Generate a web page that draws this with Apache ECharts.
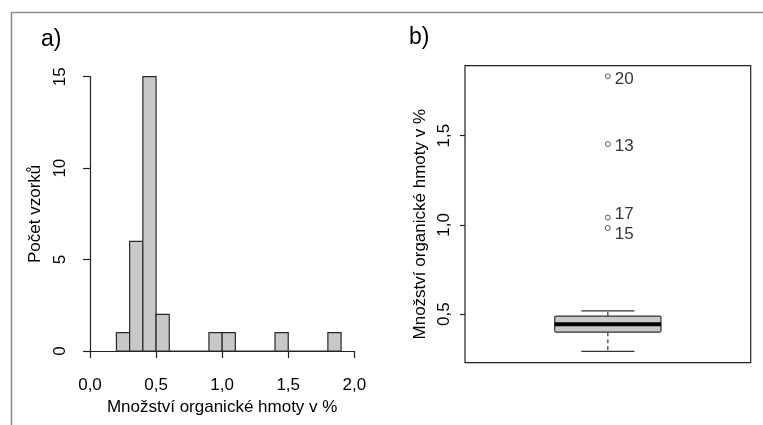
<!DOCTYPE html>
<html>
<head>
<meta charset="utf-8">
<script src="https://cdn.jsdelivr.net/npm/echarts@6/dist/echarts.min.js"></script>
<style>
html,body{margin:0;padding:0;background:#fff;}
#chart{width:763px;height:425px;}
</style>
</head>
<body>
<div id="chart"></div>
<script>
// ---- data ----
var binStarts = [0.2, 0.3, 0.4, 0.5, 0.6, 0.7, 0.8, 0.9, 1.0, 1.1, 1.2, 1.3, 1.4, 1.5, 1.6, 1.7, 1.8];
var binEnds   = [0.3, 0.4, 0.5, 0.6, 0.7, 0.8, 0.9, 1.0, 1.1, 1.2, 1.3, 1.4, 1.5, 1.6, 1.7, 1.8, 1.9];
var binCounts = [1, 6, 15, 2, 0, 0, 0, 1, 1, 0, 0, 0, 1, 0, 0, 0, 1];
var histXTicks = [0.0, 0.5, 1.0, 1.5, 2.0];
var histYTicks = [0, 5, 10, 15];

var boxStats = [0.292, 0.399, 0.444, 0.489, 0.518]; // lower whisker, Q1, median, Q3, upper whisker
var outlierValues = [1.833, 1.453, 1.041, 0.983];
var outlierLabels = ['20', '13', '17', '15'];
var boxYTicks = [0.5, 1.0, 1.5];

var titleX = 'Množství organické hmoty v %';
var titleYHist = 'Počet vzorků';
var titleYBox = 'Množství organické hmoty v %';

// ---- chart ----
var FONT = '"Liberation Sans", Arial, Helvetica, sans-serif';
var TXT = '#000';
var FS = 17;
var chart = echarts.init(document.getElementById('chart'), null, {renderer: 'canvas'});
function comma(v) { return v.toFixed(1).replace('.', ','); }

var histData = binStarts.map(function (s, i) { return [s, binEnds[i], binCounts[i]]; });
var labelDy = [3, 2, -3, 6];
var outData = outlierValues.map(function (v, i) {
  return {value: [1, v], label: {formatter: outlierLabels[i], offset: [0, labelDy[i]]}};
});

var option = {
  animation: false,
  graphic: [
    {type: 'line', shape: {x1: 11, y1: 12.5, x2: 763, y2: 12.5}, style: {stroke: '#8a8a8a', lineWidth: 1.5}},
    {type: 'line', shape: {x1: 11.5, y1: 12, x2: 11.5, y2: 425}, style: {stroke: '#8a8a8a', lineWidth: 1.5}},
    {type: 'text', left: 41, top: 28, style: {text: 'a)', font: '23px ' + FONT, fill: TXT}},
    {type: 'text', left: 409, top: 26, style: {text: 'b)', font: '23px ' + FONT, fill: TXT}}
  ],
  grid: [
    {left: 90, right: 408.7, top: 76.7, bottom: 74},
    {left: 465, right: 12.3, top: 65.7, bottom: 62.3, show: true, borderColor: '#222', borderWidth: 1.2, backgroundColor: 'transparent'}
  ],
  xAxis: [
    {
      gridIndex: 0, type: 'value', min: 0, max: 2, interval: 0.5, offset: 11,
      axisLine: {show: true, lineStyle: {color: '#222', width: 1.2}},
      axisTick: {show: true, length: 7, lineStyle: {color: '#222', width: 1.2}, customValues: histXTicks},
      axisLabel: {color: TXT, fontFamily: FONT, fontSize: FS, margin: 15, formatter: comma, customValues: histXTicks},
      splitLine: {show: false},
      name: titleX, nameLocation: 'middle', nameGap: 36,
      nameTextStyle: {color: TXT, fontFamily: FONT, fontSize: FS}
    },
    {
      gridIndex: 1, type: 'value', min: 0, max: 2, show: false
    }
  ],
  yAxis: [
    {
      gridIndex: 0, type: 'value', min: 0, max: 15, interval: 5, offset: 10,
      axisLine: {show: true, lineStyle: {color: '#222', width: 1.2}},
      axisTick: {show: true, length: 7, lineStyle: {color: '#222', width: 1.2}, customValues: histYTicks},
      axisLabel: {color: TXT, fontFamily: FONT, fontSize: FS, rotate: 90, margin: 11, customValues: histYTicks},
      splitLine: {show: false},
      name: titleYHist, nameLocation: 'middle', nameGap: 36, nameRotate: 90,
      nameTextStyle: {color: TXT, fontFamily: FONT, fontSize: FS}
    },
    {
      gridIndex: 1, type: 'value', min: 0.228, max: 1.892,
      axisLine: {show: false},
      axisTick: {show: true, length: 5, lineStyle: {color: '#222', width: 1.2}, customValues: boxYTicks},
      axisLabel: {color: TXT, fontFamily: FONT, fontSize: FS, rotate: 90, margin: 12, formatter: comma, customValues: boxYTicks},
      splitLine: {show: false},
      name: titleYBox, nameLocation: 'middle', nameGap: 36, nameRotate: 90,
      nameTextStyle: {color: TXT, fontFamily: FONT, fontSize: FS, padding: [0, 20, 0, 0]}
    }
  ],
  series: [
    {
      type: 'custom', xAxisIndex: 0, yAxisIndex: 0, data: histData,
      encode: {x: [0, 1], y: 2},
      renderItem: function (params, api) {
        var p0 = api.coord([api.value(0), 0]);
        var p1 = api.coord([api.value(1), api.value(2)]);
        return {
          type: 'rect',
          shape: {x: p0[0], y: p1[1], width: p1[0] - p0[0], height: p0[1] - p1[1]},
          style: {fill: '#c8c8c8', stroke: '#2a2a2a', lineWidth: 1.2}
        };
      }
    },
    {
      type: 'custom', xAxisIndex: 1, yAxisIndex: 1, data: [[1].concat(boxStats)],
      encode: {x: 0, y: [1, 2, 3, 4, 5]},
      renderItem: function (params, api) {
        var cx = api.coord([1, 0])[0];
        var half = api.size([0.744, 0])[0] / 2;
        var yMin = api.coord([1, api.value(1)])[1];
        var yQ1 = api.coord([1, api.value(2)])[1];
        var yMed = api.coord([1, api.value(3)])[1];
        var yQ3 = api.coord([1, api.value(4)])[1];
        var yMax = api.coord([1, api.value(5)])[1];
        var ls = {stroke: '#333', lineWidth: 1.2};
        return {
          type: 'group',
          children: [
            {type: 'line', shape: {x1: cx, y1: yQ1, x2: cx, y2: yMin}, style: {stroke: '#333', lineWidth: 1.2, lineDash: [4, 3]}},
            {type: 'line', shape: {x1: cx, y1: yQ3, x2: cx, y2: yMax}, style: {stroke: '#333', lineWidth: 1.2, lineDash: [4, 3]}},
            {type: 'line', shape: {x1: cx - half / 2, y1: yMin, x2: cx + half / 2, y2: yMin}, style: ls},
            {type: 'line', shape: {x1: cx - half / 2, y1: yMax, x2: cx + half / 2, y2: yMax}, style: ls},
            {type: 'rect', shape: {x: cx - half, y: yQ3, width: 2 * half, height: yQ1 - yQ3, r: 1.5}, style: {fill: '#c8c8c8', stroke: '#333', lineWidth: 1.2}},
            {type: 'line', shape: {x1: cx - half, y1: yMed, x2: cx + half, y2: yMed}, style: {stroke: '#000', lineWidth: 4}}
          ]
        };
      }
    },
    {
      type: 'scatter', xAxisIndex: 1, yAxisIndex: 1, data: outData,
      symbol: 'circle', symbolSize: 5,
      itemStyle: {color: '#fff', borderColor: '#333', borderWidth: 1},
      label: {show: true, position: 'right', distance: 4, color: TXT, fontFamily: FONT, fontSize: FS}
    }
  ]
};
chart.setOption(option);
</script>
</body>
</html>
